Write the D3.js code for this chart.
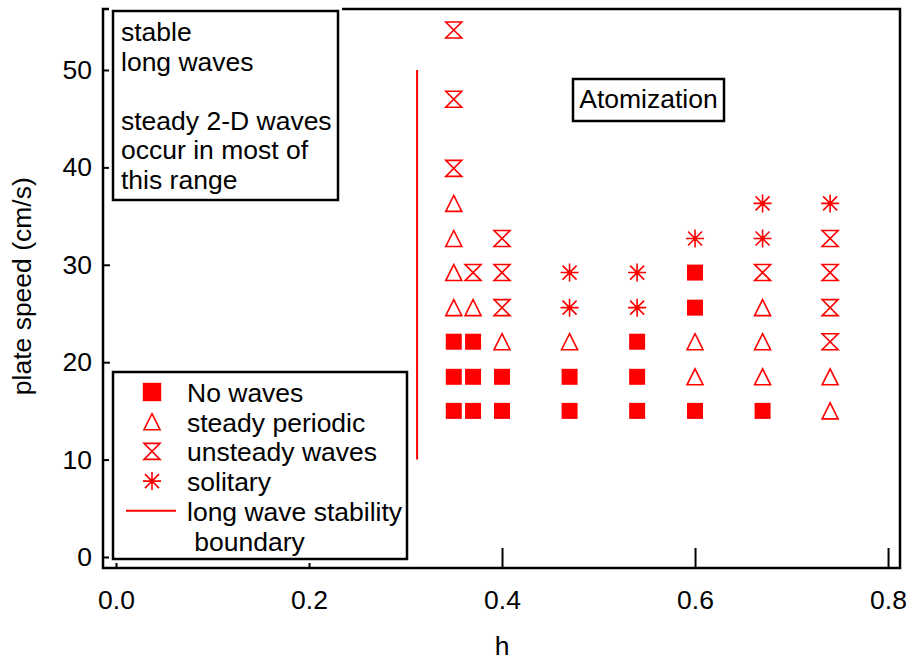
<!DOCTYPE html>
<html>
<head>
<meta charset="utf-8">
<script src="https://cdn.jsdelivr.net/npm/d3@7"></script>
<style>
    body { margin: 0; background: #fff; }
    text { font-family: "Liberation Sans", Arial, sans-serif; }
</style>
</head>
<body>
<svg id="chart"></svg>
<script>
// h vs plate speed (cm/s), one array per flow regime
const noWaves = [
    [0.35, 15.0], [0.35, 18.5], [0.35, 22.1],
    [0.37, 15.0], [0.37, 18.5], [0.37, 22.1],
    [0.40, 15.0], [0.40, 18.5],
    [0.47, 15.0], [0.47, 18.5],
    [0.54, 15.0], [0.54, 18.5], [0.54, 22.1],
    [0.60, 15.0], [0.60, 25.6], [0.60, 29.2],
    [0.67, 15.0]
];
const steadyPeriodic = [
    [0.35, 25.6], [0.35, 29.2], [0.35, 32.7], [0.35, 36.3],
    [0.37, 25.6],
    [0.40, 22.1],
    [0.47, 22.1],
    [0.60, 18.5], [0.60, 22.1],
    [0.67, 18.5], [0.67, 22.1], [0.67, 25.6],
    [0.74, 15.0], [0.74, 18.5]
];
const unsteadyWaves = [
    [0.35, 39.9], [0.35, 47.0], [0.35, 54.1],
    [0.37, 29.2],
    [0.40, 25.6], [0.40, 29.2], [0.40, 32.7],
    [0.67, 29.2],
    [0.74, 22.1], [0.74, 25.6], [0.74, 29.2], [0.74, 32.7]
];
const solitary = [
    [0.47, 25.6], [0.47, 29.2],
    [0.54, 25.6], [0.54, 29.2],
    [0.60, 32.7],
    [0.67, 32.7], [0.67, 36.3],
    [0.74, 36.3]
];
const stabilityBoundary = [[0.312, 10], [0.312, 50]];

const xTicks = [0, 0.2, 0.4, 0.6, 0.8];
const yTicks = [0, 10, 20, 30, 40, 50];

const noteLines = ['stable', 'long waves', '', 'steady 2-D waves', 'occur in most of', 'this range'];
const regionLabel = 'Atomization';
const legendLabels = ['No waves', 'steady periodic', 'unsteady waves', 'solitary', 'long wave stability', ' boundary'];

const width = 909, height = 662;
const margin = {top: 9, right: 9, bottom: 94, left: 103};
const red = '#ff0000';
const fontSize = '26.5px';

const svg = d3.select('#chart')
    .attr('width', width)
    .attr('height', height);

const inner_width = width - margin.left - margin.right;
const inner_height = height - margin.top - margin.bottom;

const xscale = d3.scaleLinear()
    .domain([-0.01347, 0.8124])
    .range([0, inner_width]);

const yscale = d3.scaleLinear()
    .domain([-1.13, 56.26])
    .range([inner_height, 0]);

const chart = svg.append('g')
    .attr('transform', `translate(${margin.left}, ${margin.top})`);

// axes, ticks pointing inward
const xaxis = d3.axisBottom(xscale)
    .tickValues(xTicks)
    .tickFormat(d3.format('.1f'))
    .tickSize(-20)
    .tickPadding(22);

const yaxis = d3.axisLeft(yscale)
    .tickValues(yTicks)
    .tickFormat(d3.format('d'))
    .tickSize(-7)
    .tickPadding(11);

const xaxis_group = chart.append('g')
    .attr('transform', `translate(0, ${inner_height})`)
    .call(xaxis);
const yaxis_group = chart.append('g')
    .call(yaxis);

[xaxis_group, yaxis_group].forEach(g => {
    g.select('.domain').remove();
    g.selectAll('line').attr('stroke', '#000').attr('stroke-width', 2);
    g.selectAll('text')
        .attr('fill', '#000')
        .style('font-size', fontSize)
        .style('font-family', '"Liberation Sans", Arial, sans-serif');
});

chart.append('rect')
    .attr('width', inner_width)
    .attr('height', inner_height)
    .attr('fill', 'none')
    .attr('stroke', '#000')
    .attr('stroke-width', 2.5);

// axis titles
svg.append('text')
    .attr('x', margin.left + xscale(0.4))
    .attr('y', 655)
    .attr('text-anchor', 'middle')
    .style('font-size', fontSize)
    .text('h');

svg.append('text')
    .attr('transform', `translate(31, ${margin.top + yscale(27.8)}) rotate(-90)`)
    .attr('text-anchor', 'middle')
    .style('font-size', fontSize)
    .text('plate speed (cm/s)');

// marker shapes
const shapes = {
    square: 'M-8,-8H8V8H-8Z',
    triangle: 'M0,-8L8,8L-8,8Z',
    hourglass: 'M-8,-8L8,-8L-8,8L8,8Z',
    star: 'M0,-9V9M-9,0H9M-7,-7L7,7M-7,7L7,-7'
};

function drawMarker(g, kind, scale) {
    const s = scale || 1;
    const p = g.append('path')
        .attr('d', shapes[kind])
        .attr('transform', `scale(${s})`)
        .attr('stroke', red)
        .attr('stroke-width', 1.6 / s);
    if (kind === 'square') {
        p.attr('fill', red).attr('stroke', 'none');
    } else {
        p.attr('fill', 'none');
    }
    if (kind === 'star') {
        g.append('circle').attr('r', 2.2).attr('fill', red);
    }
}

const series = [
    {data: noWaves, kind: 'square'},
    {data: steadyPeriodic, kind: 'triangle'},
    {data: unsteadyWaves, kind: 'hourglass'},
    {data: solitary, kind: 'star'}
];

series.forEach(s => {
    chart.selectAll(null)
        .data(s.data)
        .enter()
        .append('g')
        .attr('transform', d => `translate(${xscale(d[0])}, ${yscale(d[1])})`)
        .each(function () { drawMarker(d3.select(this), s.kind); });
});

const line = d3.line()
    .x(d => xscale(d[0]))
    .y(d => yscale(d[1]));

chart.append('path')
    .attr('d', line(stabilityBoundary))
    .attr('stroke', red)
    .attr('stroke-width', 2)
    .attr('fill', 'none');

// boxes: white padding hides the frame behind them
function box(x0, y0, x1, y1, pad) {
    svg.append('rect')
        .attr('x', x0 - pad).attr('y', y0 - pad)
        .attr('width', x1 - x0 + 2 * pad).attr('height', y1 - y0 + 2 * pad)
        .attr('fill', '#fff');
    svg.append('rect')
        .attr('x', x0).attr('y', y0)
        .attr('width', x1 - x0).attr('height', y1 - y0)
        .attr('fill', 'none')
        .attr('stroke', '#000')
        .attr('stroke-width', 2.5);
}

box(113, 11, 338, 200, 4);
svg.append('g').selectAll('text')
    .data(noteLines)
    .enter()
    .append('text')
    .attr('x', 121)
    .attr('y', (d, i) => 41 + i * 29.5)
    .style('font-size', fontSize)
    .text(d => d);

box(573, 79, 724, 121, 0);
svg.append('text')
    .attr('x', 648.5)
    .attr('y', 108)
    .attr('text-anchor', 'middle')
    .style('font-size', fontSize)
    .text(regionLabel);

box(113, 372, 407, 559, 4);
const legend = svg.append('g');
const legendKinds = ['square', 'triangle', 'hourglass', 'star'];
legendKinds.forEach((k, i) => {
    const g = legend.append('g')
        .attr('transform', `translate(152, ${392 + i * 29.7})`);
    drawMarker(g, k, k === 'square' ? 1.15 : 1);
});
legend.append('line')
    .attr('x1', 126).attr('x2', 176)
    .attr('y1', 392 + 4 * 29.7).attr('y2', 392 + 4 * 29.7)
    .attr('stroke', red)
    .attr('stroke-width', 2);
legend.selectAll('text')
    .data(legendLabels)
    .enter()
    .append('text')
    .attr('x', 187)
    .attr('y', (d, i) => 402 + i * 29.7)
    .attr('xml:space', 'preserve')
    .style('white-space', 'pre')
    .style('font-size', fontSize)
    .text(d => d);
</script>
</body>
</html>
